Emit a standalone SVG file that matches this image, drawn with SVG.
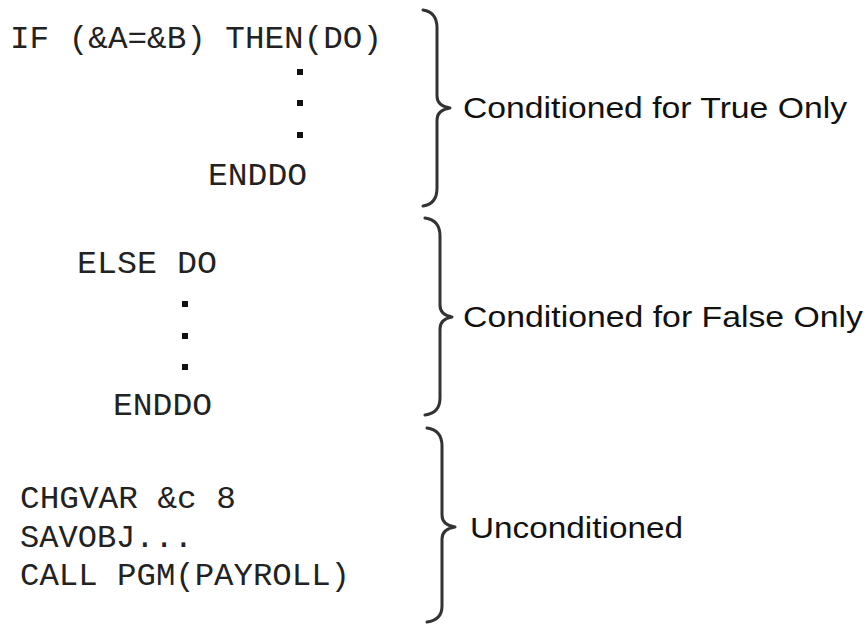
<svg xmlns="http://www.w3.org/2000/svg" width="867" height="625" viewBox="0 0 867 625">
<style>
.code{font-family:"Liberation Mono","Courier New",monospace;font-size:32px;fill:#222}
.lbl{font-family:"Liberation Sans",Arial,sans-serif;font-size:30px;fill:#111}
.brace{fill:none;stroke:#333;stroke-width:3;stroke-linecap:round;stroke-linejoin:round}
.dot{fill:#111}
</style>
<rect width="867" height="625" fill="#fff"/>
<g id="true-block">
<text class="code" x="10" y="48" textLength="372" lengthAdjust="spacingAndGlyphs">IF (&amp;A=&amp;B) THEN(DO)</text>
<rect class="dot" x="297" y="69" width="6" height="6"/>
<rect class="dot" x="297" y="100" width="6" height="6"/>
<rect class="dot" x="297" y="132" width="6" height="6"/>
<text class="code" x="208" y="185" textLength="99" lengthAdjust="spacingAndGlyphs">ENDDO</text>
</g>
<g id="false-block">
<text class="code" x="77" y="273" textLength="140" lengthAdjust="spacingAndGlyphs">ELSE DO</text>
<rect class="dot" x="182" y="301" width="6" height="6"/>
<rect class="dot" x="182" y="333" width="6" height="6"/>
<rect class="dot" x="182" y="364" width="6" height="6"/>
<text class="code" x="113" y="415" textLength="99" lengthAdjust="spacingAndGlyphs">ENDDO</text>
</g>
<g id="uncond-block">
<text class="code" x="20" y="508" textLength="216" lengthAdjust="spacingAndGlyphs">CHGVAR &amp;c 8</text>
<text class="code" x="20" y="547" textLength="173" lengthAdjust="spacingAndGlyphs">SAVOBJ...</text>
<text class="code" x="20" y="585" textLength="330" lengthAdjust="spacingAndGlyphs">CALL PGM(PAYROLL)</text>
</g>
<g id="connectors">
<path class="brace" d="M423,10 Q437,12 437,28 L437,96 Q437,106 450,108 Q437,110 437,120 L437,188 Q437,204 423,206"/>
<path class="brace" d="M425,218 Q440,220 440,236 L440,305 Q440,315 452,317 Q440,319 440,329 L440,398 Q440,413 425,415"/>
<path class="brace" d="M427,428 Q442,430 442,446 L442,515 Q442,525 455,527 Q442,529 442,539 L442,606 Q442,620 427,622"/>
</g>
<g id="labels">
<text class="lbl" x="463" y="118" textLength="384" lengthAdjust="spacingAndGlyphs">Conditioned for True Only</text>
<text class="lbl" x="463" y="327" textLength="400" lengthAdjust="spacingAndGlyphs">Conditioned for False Only</text>
<text class="lbl" x="470" y="538" textLength="213" lengthAdjust="spacingAndGlyphs">Unconditioned</text>
</g>
</svg>
